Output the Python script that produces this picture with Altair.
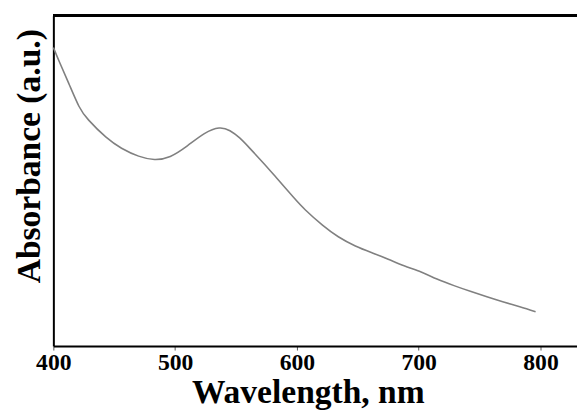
import altair as alt
import pandas as pd

# UV-Vis spectrum
wavelength = [400, 405, 413, 421, 429, 443, 456, 470, 483, 496, 510, 524, 536,
              545, 553, 561, 573, 583, 597, 607, 621, 634, 648, 662, 675, 688,
              702, 715, 729, 743, 756, 769, 783, 796]
absorbance = [0.904, 0.860, 0.792, 0.726, 0.684, 0.633, 0.599, 0.575, 0.565,
              0.574, 0.606, 0.643, 0.660, 0.652, 0.630, 0.600, 0.552, 0.510,
              0.451, 0.412, 0.366, 0.331, 0.303, 0.282, 0.263, 0.243, 0.224,
              0.203, 0.183, 0.165, 0.149, 0.134, 0.119, 0.104]
x_ticks = [400, 500, 600, 700, 800]

df = pd.DataFrame({"wavelength": wavelength, "absorbance": absorbance})

W, H = 531, 335
FONT = "Liberation Serif"

line = alt.Chart(df).mark_line(color="#808080", strokeWidth=1.6,
                               interpolate="natural").encode(
    x=alt.X("wavelength:Q",
            scale=alt.Scale(domain=[400, 830], nice=False, zero=False),
            axis=alt.Axis(values=x_ticks, title="Wavelength, nm", grid=False,
                          domainColor="black", domainWidth=2,
                          tickSize=4, tickColor="#555555", tickWidth=1,
                          labelFont=FONT, labelFontSize=24, labelFontWeight="bold",
                          labelColor="black", labelBaseline="alphabetic",
                          labelPadding=20, labelFlush=False,
                          titleFont=FONT, titleFontSize=34, titleFontWeight="bold",
                          titleColor="black", titleAlign="center",
                          titleBaseline="alphabetic", titleX=258, titleY=57)),
    y=alt.Y("absorbance:Q",
            scale=alt.Scale(domain=[0, 1], nice=False),
            axis=alt.Axis(title="Absorbance (a.u.)", labels=False, ticks=False,
                          grid=False, domainColor="black", domainWidth=2,
                          titleFont=FONT, titleFontSize=34, titleFontWeight="bold",
                          titleColor="black", titleAngle=-90, titleAlign="center",
                          titleBaseline="alphabetic", titleX=-14, titleY=142)),
)

top_border = alt.Chart(df).mark_rule(color="black", strokeWidth=2).encode(
    x=alt.value(0), x2=alt.value(W), y=alt.value(0)
)

chart = alt.layer(line, top_border).properties(
    width=W, height=H,
    autosize=alt.AutoSizeParams(type="none"),
    padding={"left": 46, "top": 5, "right": 0, "bottom": 63},
).configure_view(stroke=None).configure(background="white")

chart.save("out.html", embed_options={"renderer": "svg", "actions": False})
